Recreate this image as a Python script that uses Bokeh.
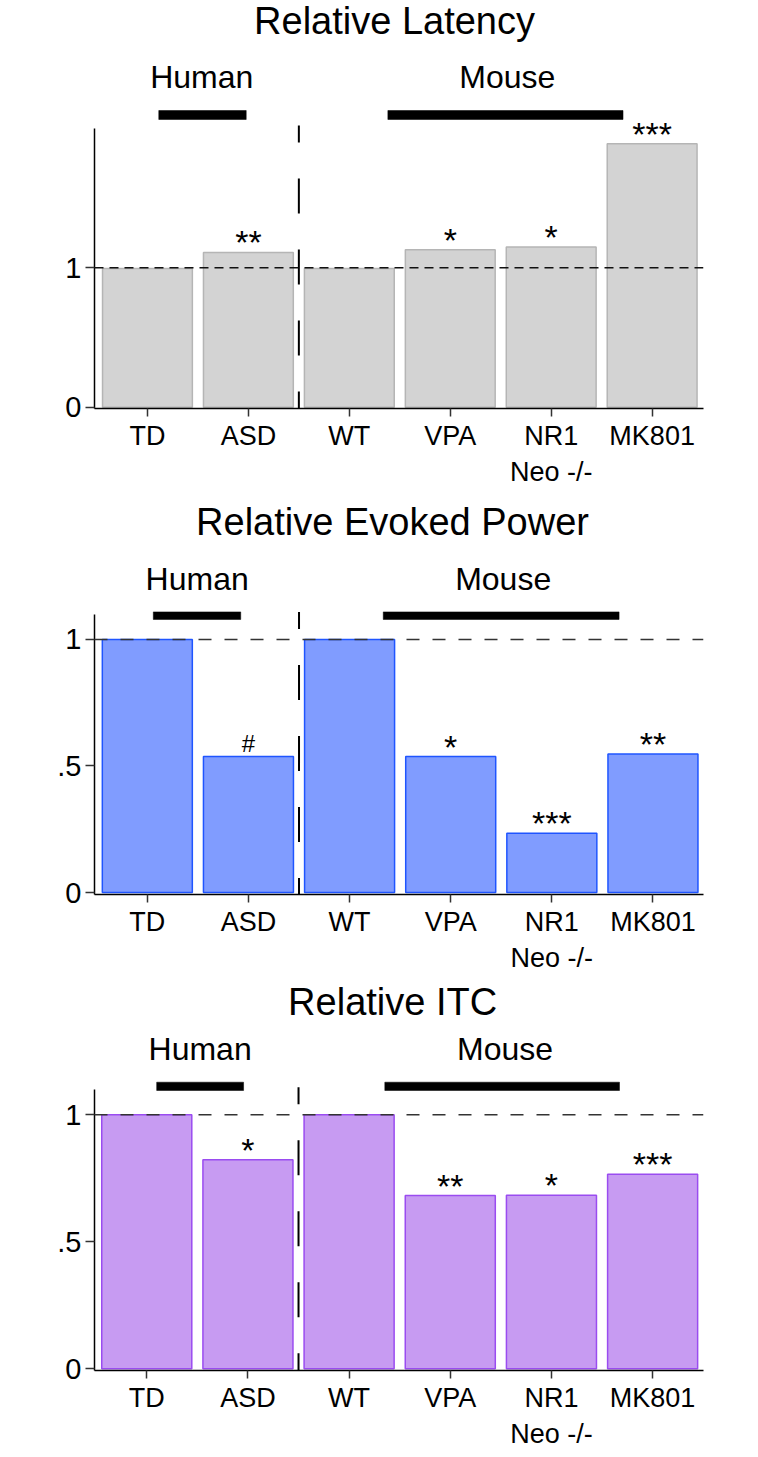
from bokeh.plotting import figure
from bokeh.models import Range1d, FixedTicker, Span, ColumnDataSource
from bokeh.layouts import column
from bokeh.core.properties import value
from bokeh.embed import file_html
from bokeh.resources import INLINE

# ---------------- data ----------------
groups = ["TD", "ASD", "WT", "VPA", "NR1", "MK801"]
tick_labels = ["TD", "ASD", "WT", "VPA", "NR1\nNeo -/-", "MK801"]

latency = [0.995, 1.11, 0.995, 1.13, 1.15, 1.89]
latency_sig = ["", "**", "", "*", "*", "***"]

evoked = [1.0, 0.537, 1.0, 0.537, 0.234, 0.547]
evoked_sig = ["", "#", "", "*", "***", "**"]

itc = [1.0, 0.823, 1.0, 0.682, 0.683, 0.766]
itc_sig = ["", "*", "", "**", "*", "***"]

titles = ["Relative Latency", "Relative Evoked Power", "Relative ITC"]
species = ["Human", "Mouse"]

FONT = "Liberation Sans"
W = 758
MID = 0.3465  # baseline offset (em) of a 'middle'-anchored text box

# ---------------- layout (pixel geometry in page coordinates) ----------------
layouts = [
    dict(top=0, height=490, fl=93, fr=706, fb=408, zero=406.7, unit=139.4, td=146.3, sp=101.6,
         title_cx=395, title_base=33.3, lab_base=87.3, lab_cx=(201, 508.5),
         gb=(110, 119), gh=(157.7, 245.7), gm=(388.3, 625), div_top=125,
         axis_top=2.0, yticks=[0, 1], ylabels=["0", "1"],
         hdash="9 6", hcol="#111111", hw=1.4),
    dict(top=490, height=485, fl=92, fr=703, fb=895, zero=893, unit=253.7, td=145, sp=101.46,
         title_cx=391, title_base=535, lab_base=590, lab_cx=(195, 502),
         gb=(611.7, 619.3), gh=(151, 238.7), gm=(381.7, 618.3), div_top=611.7,
         axis_top=1.1, yticks=[0, 0.5, 1], ylabels=["0", ".5", "1"],
         hdash="13 13", hcol="#333333", hw=1.6),
    dict(top=975, height=482, fl=94, fr=708, fb=1370, zero=1368.3, unit=254, td=146.7, sp=102,
         title_cx=394.6, title_base=1015, lab_base=1060, lab_cx=(200.5, 508),
         gb=(1081.7, 1090), gh=(156.7, 244.3), gm=(386.7, 623.3), div_top=1086.7,
         axis_top=1.1, yticks=[0, 0.5, 1], ylabels=["0", ".5", "1"],
         hdash="13 13", hcol="#333333", hw=1.6),
]

styles = [
    dict(fill="#d3d3d3", line="#b5b5b5"),
    dict(fill="#809cff", line="#1f55ff"),
    dict(fill="#c79bf2", line="#9a4cf0"),
]


def make_panel(title, vals, sig, L, st):
    px = lambda x: (x - L["td"]) / L["sp"]
    py = lambda y: (L["zero"] - y) / L["unit"]
    x0, x1 = px(L["fl"]), px(L["fr"])
    y0, y1 = py(L["fb"]), py(L["top"])

    p = figure(width=W, height=L["height"], x_range=Range1d(x0, x1), y_range=Range1d(y0, y1),
               output_backend="svg", toolbar_location=None,
               min_border_left=L["fl"], min_border_right=W - L["fr"],
               min_border_top=0, min_border_bottom=L["top"] + L["height"] - L["fb"])
    p.outline_line_color = None
    p.grid.visible = False
    p.background_fill_color = "white"
    p.border_fill_color = "white"

    xs = list(range(len(groups)))
    src = ColumnDataSource(dict(
        x=xs, v=vals,
        star=[s if s != "#" else "" for s in sig],
        hash=[s if s == "#" else "" for s in sig],
    ))
    p.vbar(x="x", top="v", bottom=0, width=0.89, source=src,
           fill_color=st["fill"], line_color=st["line"], line_width=1.5)

    # reference line at 1
    p.add_layout(Span(location=1, dimension="width", line_color=L["hcol"],
                      line_width=L["hw"], line_dash=L["hdash"]))

    # human / mouse divider
    p.segment(x0=[1.5], y0=[py(L["div_top"])], x1=[1.5], y1=[y0],
              line_color="black", line_width=2, line_dash="35 36", line_dash_offset=18)

    # group bars
    p.quad(left=[px(L["gh"][0]), px(L["gm"][0])], right=[px(L["gh"][1]), px(L["gm"][1])],
           top=[py(L["gb"][0])] * 2, bottom=[py(L["gb"][1])] * 2,
           fill_color="black", line_color="black", line_width=0.5)

    # group labels
    p.text(x=[px(c) for c in L["lab_cx"]], y=[py(L["lab_base"] - MID * 32)] * 2, text=species,
           text_font=value(FONT), text_font_size="32px", text_color="black",
           text_align="center", text_baseline="middle")

    # title
    p.text(x=[px(L["title_cx"])], y=[py(L["title_base"] - MID * 38)], text=[title],
           text_font=value(FONT), text_font_size="38px", text_color="black",
           text_align="center", text_baseline="middle")

    # significance marks
    p.text(x="x", y="v", text="star", source=src, y_offset=-10,
           text_font=value(FONT), text_font_size="34px", text_color="black",
           text_align="center", text_baseline="middle")
    p.text(x="x", y="v", text="hash", source=src, y_offset=-13,
           text_font=value(FONT), text_font_size="24px", text_color="black",
           text_align="center", text_baseline="middle")

    # axes
    xa = p.xaxis[0]
    xa.ticker = FixedTicker(ticks=xs)
    xa.major_label_overrides = {i: lab for i, lab in enumerate(tick_labels)}
    xa.major_label_text_font = FONT
    xa.major_label_text_font_size = "27px"
    xa.major_label_text_color = "black"
    xa.major_label_standoff = 4
    xa.major_tick_out = 8
    xa.major_tick_in = 0
    xa.minor_tick_line_color = None
    xa.major_tick_line_color = "#333333"
    xa.major_tick_line_width = 1.5
    xa.axis_line_color = "black"
    xa.axis_line_width = 1.5

    ya = p.yaxis[0]
    ya.ticker = FixedTicker(ticks=L["yticks"])
    ya.major_label_overrides = {t: s for t, s in zip(L["yticks"], L["ylabels"])}
    ya.bounds = (y0, L["axis_top"])
    ya.major_label_text_font = FONT
    ya.major_label_text_font_size = "29px"
    ya.major_label_text_color = "black"
    ya.major_label_standoff = 4
    ya.major_tick_out = 9
    ya.major_tick_in = 0
    ya.minor_tick_line_color = None
    ya.major_tick_line_color = "#333333"
    ya.major_tick_line_width = 1.5
    ya.axis_line_color = "black"
    ya.axis_line_width = 1.5
    return p


panels = [
    make_panel(titles[0], latency, latency_sig, layouts[0], styles[0]),
    make_panel(titles[1], evoked, evoked_sig, layouts[1], styles[1]),
    make_panel(titles[2], itc, itc_sig, layouts[2], styles[2]),
]

layout = column(*panels, spacing=0)
open("out.html", "w").write(file_html(layout, INLINE))
